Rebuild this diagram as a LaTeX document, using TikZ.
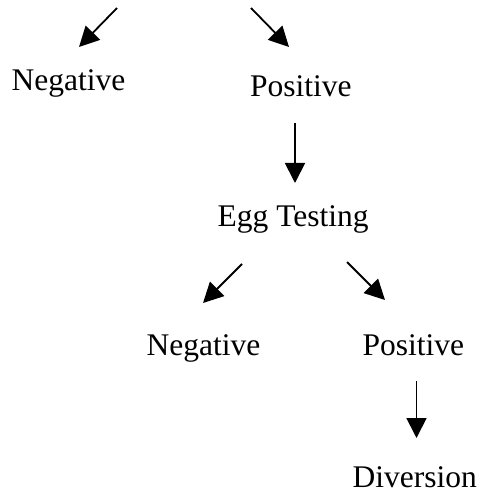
\documentclass[tikz,border=0pt]{standalone}
\usepackage{fontspec}
\setmainfont{Liberation Serif}
\usetikzlibrary{arrows.meta}
\begin{document}
\begin{tikzpicture}[x=1pt,y=-1pt,
  lbl/.style={anchor=base west,inner sep=0pt,font=\fontsize{31.5}{38}\selectfont},
  arr/.style={line width=1.8pt,-{Triangle[length=20pt,width=20pt]}}]
\useasboundingbox (0,0) rectangle (481,494);
\node[lbl] (neg1) at (11.5,91) {Negative};
\node[lbl] (pos1) at (250,97) {Positive};
\node[lbl] (egg) at (217.5,226) {Egg Testing};
\node[lbl] (neg2) at (146.5,355.5) {Negative};
\node[lbl] (pos2) at (362.5,355.5) {Positive};
\node[lbl] (div) at (352.5,487) {Diversion};
\coordinate (a1s) at (117,8);
\coordinate (a1e) at (79,47);
\coordinate (a2s) at (251,8);
\coordinate (a2e) at (289,47);
\coordinate (a3s) at (295,123);
\coordinate (a3e) at (295,183);
\coordinate (a4s) at (242,264);
\coordinate (a4e) at (203,303);
\coordinate (a5s) at (347,262);
\coordinate (a5e) at (385,300);
\coordinate (a6s) at (416.5,381);
\coordinate (a6e) at (416.5,438);
\draw[arr] (a1s) -- (a1e);
\draw[arr] (a2s) -- (a2e);
\draw[arr] (a3s) -- (a3e);
\draw[arr] (a4s) -- (a4e);
\draw[arr] (a5s) -- (a5e);
\draw[arr] (a6s) -- (a6e);
\end{tikzpicture}
\end{document}
